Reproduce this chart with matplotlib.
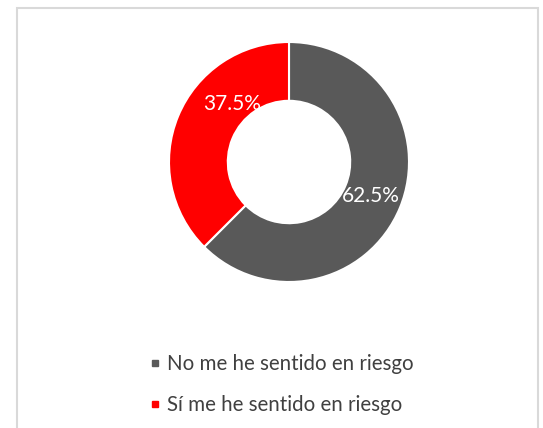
import matplotlib.pyplot as plt
from matplotlib.lines import Line2D
from matplotlib.patches import Rectangle
import numpy as np

# datos
categorias = ["No me he sentido en riesgo", "Sí me he sentido en riesgo"]
valores = [62.5, 37.5]
colores = ["#595959", "#FF0000"]

W, H = 543, 428
fig = plt.figure(figsize=(W / 100, H / 100), dpi=100)
ax = fig.add_axes([0, 0, 1, 1])
ax.set_xlim(0, W)
ax.set_ylim(0, H)
ax.set_aspect("equal")
ax.axis("off")

# marco del gráfico
ax.add_patch(Rectangle((17, -5), 521, H - 8 + 5, fill=False, edgecolor="#D9D9D9", linewidth=1.5))

cx, cy, r = 289, H - 162, 120
wedges, _ = ax.pie(valores, colors=colores, startangle=90, counterclock=False,
                   center=(cx, cy), radius=r, frame=True,
                   wedgeprops=dict(width=r * 0.49, edgecolor="white", linewidth=1.5))
ax.set_xlim(0, W)
ax.set_ylim(0, H)
ax.axis("off")

# etiquetas de porcentaje
for w, v in zip(wedges, valores):
    mid = np.deg2rad((w.theta1 + w.theta2) / 2)
    x = cx + 89 * np.cos(mid)
    y = cy + 89 * np.sin(mid)
    if v < 50:
        x, y = cx - 57, cy + 58
    ax.text(x, y, f"{v:.1f}%", color="white", fontsize=15, family="Lato",
            ha="center", va="center")

handles = [Line2D([], [], marker="s", linestyle="none", markersize=5,
                  markerfacecolor=c, markeredgecolor=c) for c in colores]
leg = ax.legend(handles, categorias, loc="upper left", bbox_to_anchor=(130 / W, 1 - 336 / H),
                frameon=False, handlelength=0.6, handletextpad=0.3, labelspacing=1.0,
                prop=dict(family="Lato", size=14.8))
for t in leg.get_texts():
    t.set_color("#404040")

fig.savefig("out.png", dpi=100)
